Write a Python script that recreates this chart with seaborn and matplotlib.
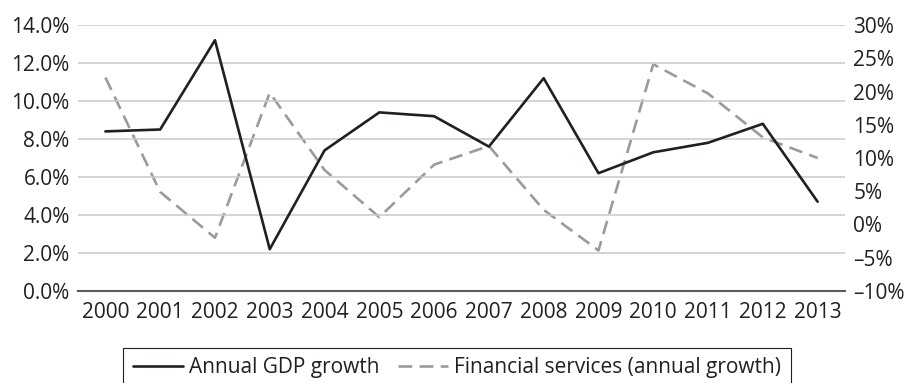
import seaborn as sns
import pandas as pd
import matplotlib.pyplot as plt

# Data
years = [2000, 2001, 2002, 2003, 2004, 2005, 2006, 2007, 2008, 2009, 2010, 2011, 2012, 2013]
gdp_growth = [8.4, 8.5, 13.2, 2.2, 7.4, 9.4, 9.2, 7.6, 11.2, 6.2, 7.3, 7.8, 8.8, 4.7]
fin_growth = [22.1, 4.9, -2.0, 19.8, 8.2, 1.1, 9.0, 11.8, 2.2, -3.9, 24.1, 19.7, 13.1, 10.0]

left_ticks = [0, 2, 4, 6, 8, 10, 12, 14]
left_labels = ['0.0%', '2.0%', '4.0%', '6.0%', '8.0%', '10.0%', '12.0%', '14.0%']
right_ticks = [-10, -5, 0, 5, 10, 15, 20, 25, 30]
right_labels = ['\u201310%', '\u20135%', '0%', '5%', '10%', '15%', '20%', '25%', '30%']

gdp_name = 'Annual GDP growth'
fin_name = 'Financial services (annual growth)'

df = pd.DataFrame({'year': years, 'gdp': gdp_growth, 'fin': fin_growth})

sns.set_theme(style='white')
plt.rcParams['font.family'] = ['Open Sans', 'DejaVu Sans']
text_color = '#231f20'

fig = plt.figure(figsize=(9.08, 3.83), dpi=100)
ax = fig.add_axes([78 / 908, 92 / 383, 767 / 908, 266 / 383])
ax2 = ax.twinx()

# primary axis: GDP growth
sns.lineplot(data=df, x='year', y='gdp', ax=ax, color=text_color, linewidth=1.9,
             label=gdp_name, zorder=3)
# secondary axis: financial services
sns.lineplot(data=df, x='year', y='fin', ax=ax2, color='#9b9b9b', linewidth=1.9,
             linestyle=(0, (5.2, 2.8)), label=fin_name)

ax.set_zorder(ax2.get_zorder() + 1)
ax.patch.set_visible(False)

ax.set_xlim(years[0] - 0.5, years[-1] + 0.5)
ax.set_xticks(years, [str(y) for y in years])
ax.set_ylim(0, 14)
ax.set_yticks(left_ticks, left_labels)
ax2.set_ylim(-10, 30)
ax2.set_yticks(right_ticks, right_labels)

ax.set_xlabel('')
ax.set_ylabel('')
ax2.set_ylabel('')

ax.yaxis.grid(True, color='#c9c9c9', linewidth=1.1)
ax.xaxis.grid(False)
ax2.grid(False)
ax.set_axisbelow(True)

for a in (ax, ax2):
    for side in ('left', 'right', 'top', 'bottom'):
        a.spines[side].set_visible(False)
ax.spines['bottom'].set_visible(True)
ax.spines['bottom'].set_color('#5a5a5a')
ax.spines['bottom'].set_linewidth(1.5)

ax.tick_params(axis='y', length=0, pad=6, labelsize=15, labelcolor=text_color)
ax.tick_params(axis='x', length=0, pad=8, labelsize=15, labelcolor=text_color)
ax2.tick_params(axis='y', length=0, pad=6, labelsize=15, labelcolor=text_color)

# gather handles from both axes into one legend under the plot
h1, l1 = ax.get_legend_handles_labels()
h2, l2 = ax2.get_legend_handles_labels()
ax.get_legend().remove()
ax2.get_legend().remove()
leg = fig.legend(h1 + h2, l1 + l2, loc='upper center', bbox_to_anchor=(457 / 908, 1 - 348 / 383),
                 ncol=2, frameon=True, fancybox=False, framealpha=1, edgecolor=text_color,
                 handlelength=2.4, handletextpad=0.3, columnspacing=0.9, borderpad=0.45,
                 fontsize=15, borderaxespad=0)
leg.get_frame().set_linewidth(0.8)
for t in leg.get_texts():
    t.set_color(text_color)

fig.savefig('out.png', dpi=100)
